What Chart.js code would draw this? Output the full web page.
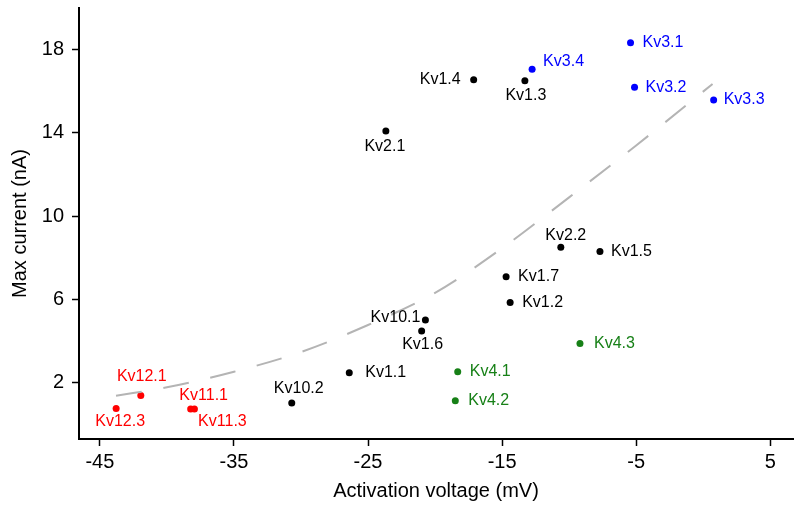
<!DOCTYPE html>
<html>
<head>
<meta charset="utf-8">
<script src="https://cdn.jsdelivr.net/npm/chart.js@4"></script>
<style>
  html, body { margin: 0; padding: 0; background: #fff; }
  #wrap { width: 797px; height: 507px; }
</style>
</head>
<body>
<div id="wrap"><canvas id="chart" width="797" height="507"></canvas></div>
<script>
// channel groups
const blackNames = ['Kv1.4', 'Kv1.3', 'Kv2.1', 'Kv2.2', 'Kv1.5', 'Kv1.7', 'Kv1.2', 'Kv10.1', 'Kv1.6', 'Kv1.1', 'Kv10.2'];
const blackX = [-17.12, -13.3, -23.67, -10.62, -7.7, -14.7, -14.4, -20.72, -21.0, -26.4, -30.69];
const blackY = [16.56, 16.51, 14.09, 8.5, 8.29, 7.07, 5.83, 4.99, 4.46, 2.45, 0.99];

const blueNames = ['Kv3.1', 'Kv3.4', 'Kv3.2', 'Kv3.3'];
const blueX = [-5.42, -12.76, -5.12, 0.78];
const blueY = [18.35, 17.07, 16.2, 15.59];

const greenNames = ['Kv4.3', 'Kv4.1', 'Kv4.2'];
const greenX = [-9.19, -18.31, -18.49];
const greenY = [3.86, 2.5, 1.1];

const redNames = ['Kv12.1', 'Kv12.3', 'Kv11.1', 'Kv11.3'];
const redX = [-41.95, -43.79, -38.23, -37.95];
const redY = [1.36, 0.73, 0.70, 0.70];

// dashed trend curve
const fitX = [-43.8, -40, -35, -30, -25, -20, -15, -10, -5, 0.7];
const fitY = [1.34, 1.75, 2.5, 3.45, 4.75, 6.3, 8.45, 10.9, 13.4, 16.36];

const xTicks = [-45, -35, -25, -15, -5, 5];
const yTicks = [2, 6, 10, 14, 18];

// where each label sits relative to its dot: [dx, dy, align]
const labelSpots = {
  'Kv1.4': [-13, 0, 'right'], 'Kv1.3': [1, 15, 'center'], 'Kv2.1': [-1, 15, 'center'],
  'Kv2.2': [5, -12, 'center'], 'Kv1.5': [11, 0, 'left'], 'Kv1.7': [12, 0, 'left'],
  'Kv1.2': [12, 0, 'left'], 'Kv10.1': [-5, -2, 'right'], 'Kv1.6': [1, 14, 'center'],
  'Kv1.1': [16, 0, 'left'], 'Kv10.2': [7, -14, 'center'],
  'Kv3.1': [12, 0, 'left'], 'Kv3.4': [11, -8, 'left'], 'Kv3.2': [11, 0, 'left'], 'Kv3.3': [10, 0, 'left'],
  'Kv4.3': [14, 0, 'left'], 'Kv4.1': [12, 0, 'left'], 'Kv4.2': [13, 0, 'left'],
  'Kv12.1': [1, -19, 'center'], 'Kv12.3': [4, 13, 'center'], 'Kv11.1': [13, -14, 'center'], 'Kv11.3': [28, 12, 'center']
};

function pts(xs, ys) {
  return xs.map((x, i) => ({ x: x, y: ys[i] }));
}

function group(names, xs, ys, color) {
  return {
    type: 'scatter',
    names: names,
    data: pts(xs, ys),
    backgroundColor: color,
    borderColor: color,
    pointRadius: 3.5,
    pointBorderWidth: 0,
    labelColor: color
  };
}

const pointLabels = {
  id: 'pointLabels',
  afterDatasetsDraw(chart) {
    const ctx = chart.ctx;
    ctx.save();
    ctx.font = '16px "Liberation Sans", Arial, sans-serif';
    ctx.textBaseline = 'middle';
    chart.data.datasets.forEach((ds, di) => {
      if (!ds.names) return;
      const meta = chart.getDatasetMeta(di);
      meta.data.forEach((el, i) => {
        const name = ds.names[i];
        const spot = labelSpots[name] || [10, 0, 'left'];
        ctx.fillStyle = ds.labelColor;
        ctx.textAlign = spot[2];
        ctx.fillText(name, el.x + spot[0], el.y + spot[1]);
      });
    });
    ctx.restore();
  }
};

const tickFont = { family: '"Liberation Sans", Arial, sans-serif', size: 20 };
const titleFont = { family: '"Liberation Sans", Arial, sans-serif', size: 20 };

new Chart(document.getElementById('chart'), {
  type: 'scatter',
  data: {
    datasets: [
      {
        type: 'line',
        data: pts(fitX, fitY),
        borderColor: '#b4b4b4',
        borderWidth: 2,
        borderDash: [26, 22],
        pointRadius: 0,
        fill: false,
        cubicInterpolationMode: 'monotone'
      },
      group(blackNames, blackX, blackY, '#000000'),
      group(blueNames, blueX, blueY, '#0000ff'),
      group(greenNames, greenX, greenY, '#178017'),
      group(redNames, redX, redY, '#ff0000')
    ]
  },
  options: {
    responsive: false,
    animation: false,
    layout: { padding: { top: 8, right: 2, left: 0, bottom: 4 } },
    plugins: { legend: { display: false }, tooltip: { enabled: false } },
    scales: {
      x: {
        type: 'linear',
        min: -46.56,
        max: 6.7,
        afterBuildTicks: s => { s.ticks = xTicks.map(v => ({ value: v })); },
        afterFit: s => { s.height = 64; s.paddingLeft = 0; s.paddingRight = 0; },
        border: { display: true, color: '#000', width: 2 },
        grid: { drawOnChartArea: false, drawTicks: true, tickLength: 7, color: '#000', tickWidth: 1.5 },
        ticks: { color: '#000', font: tickFont, padding: 4, maxRotation: 0 },
        title: { display: true, text: 'Activation voltage (mV)', color: '#000', font: titleFont, padding: { top: 2, bottom: 0 } }
      },
      y: {
        type: 'linear',
        min: -0.74,
        max: 20.02,
        afterBuildTicks: s => { s.ticks = yTicks.map(v => ({ value: v })); },
        afterFit: s => { s.width = 79; s.paddingTop = 0; s.paddingBottom = 0; },
        border: { display: true, color: '#000', width: 2 },
        grid: { drawOnChartArea: false, drawTicks: true, tickLength: 7, color: '#000', tickWidth: 1.5 },
        ticks: { color: '#000', font: tickFont, padding: 8 },
        title: { display: true, text: 'Max current (nA)', color: '#000', font: titleFont, padding: { top: 8, bottom: 0 } }
      }
    }
  },
  plugins: [pointLabels]
});
</script>
</body>
</html>
